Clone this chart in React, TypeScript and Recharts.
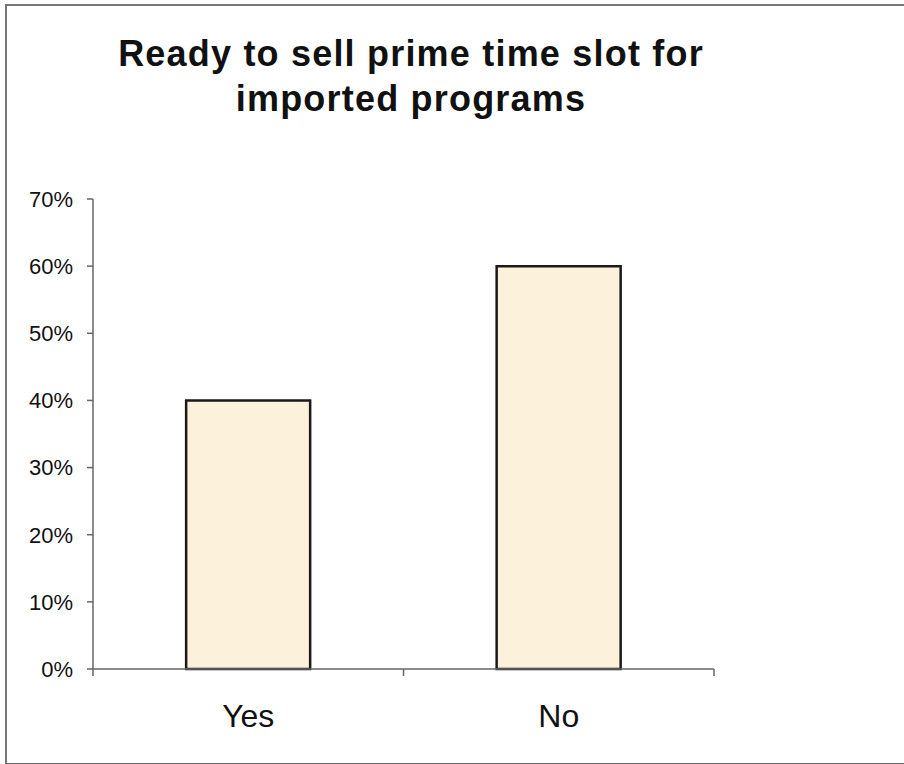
import { BarChart, Bar, XAxis, YAxis } from 'recharts';

const categories = ['Yes', 'No'];
const shares = [0.4, 0.6];
const yTicks = [0, 0.1, 0.2, 0.3, 0.4, 0.5, 0.6, 0.7];
const titleLines = ['Ready to sell prime time slot for', 'imported programs'];

const data = categories.map((answer, i) => ({ answer, share: shares[i] }));

const font = '"Liberation Sans", Arial, sans-serif';
const labelGap = 35;

// category label plus the tick marks at the band edges (Excel style)
const CategoryTick = (props: any) => {
  const { x, y, payload, index } = props;
  const half = payload?.offset ?? 0;
  const axisY = y - labelGap;
  const isLast = index === categories.length - 1;
  return (
    <g>
      <line x1={x - half} x2={x - half} y1={axisY} y2={axisY + 7} stroke="#666" strokeWidth={1.5} />
      {isLast && <line x1={x + half} x2={x + half} y1={axisY} y2={axisY + 7} stroke="#666" strokeWidth={1.5} />}
      <text x={x} y={y} dy="0.71em" textAnchor="middle" fontSize={32} fill="#111" fontFamily={font}>
        {payload.value}
      </text>
    </g>
  );
};

export default function App() {
  return (
    <div style={{ position: 'absolute', left: 0, top: 0, width: 904, height: 764, background: '#fff', overflow: 'hidden', fontFamily: font }}>
      {/* scanned frame */}
      <div
        style={{
          position: 'absolute',
          left: 5,
          top: 4,
          width: 940,
          height: 757,
          borderLeft: '2px solid #777',
          borderTop: '2px solid #777',
          borderBottom: '2px solid #666',
        }}
      />
      <div
        style={{
          position: 'absolute',
          left: 0,
          width: 822,
          top: 31,
          textAlign: 'center',
          fontSize: 36,
          fontWeight: 'bold',
          letterSpacing: 1.2,
          lineHeight: '45px',
          color: '#111',
        }}
      >
        {titleLines.map((line) => (
          <div key={line}>{line}</div>
        ))}
      </div>
      <div style={{ position: 'absolute', left: 0, top: 0 }}>
        <BarChart
          width={904}
          height={764}
          data={data}
          margin={{ top: 199, right: 190, left: 33, bottom: 35 }}
          barCategoryGap="30%"
        >
          <XAxis
            dataKey="answer"
            tickLine={false}
            tickSize={0}
            tickMargin={labelGap}
            height={60}
            stroke="#666"
            strokeWidth={1.5}
            tick={<CategoryTick />}
          />
          <YAxis
            domain={[0, 0.7]}
            ticks={yTicks}
            tickFormatter={(v: number) => `${Math.round(v * 100)}%`}
            width={60}
            tickSize={6}
            tickMargin={14}
            stroke="#666"
            strokeWidth={1.5}
            tick={{ fontSize: 22, fill: '#111', fontFamily: font }}
          />
          <Bar
            dataKey="share"
            fill="#FCF1DA"
            stroke="#1a1a1a"
            strokeWidth={2.5}
            isAnimationActive={false}
          />
        </BarChart>
      </div>
    </div>
  );
}
